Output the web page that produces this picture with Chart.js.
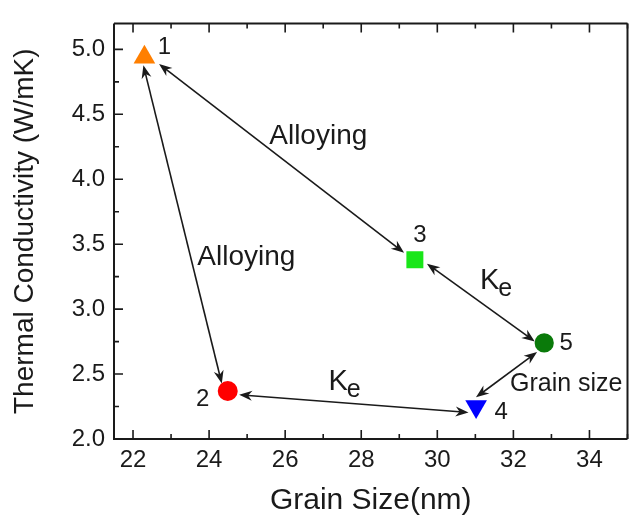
<!DOCTYPE html>
<html><head><meta charset="utf-8">
<script src="https://cdn.jsdelivr.net/npm/chart.js@4.4.1/dist/chart.umd.min.js"></script>
<style>html,body{margin:0;padding:0;overflow:hidden;background:#fff}#wrap{width:640px;height:519px}</style>
</head><body><div id="wrap"><canvas id="c" width="640" height="519"></canvas></div>
<script>
// ---- data ----
const sampleLabels = ['1', '2', '3', '4', '5'];
const grainSize = [22.30, 24.49, 29.41, 31.02, 32.81];
const conductivity = [4.94, 2.37, 3.38, 2.25, 2.74];
const xTickValues = [22, 24, 26, 28, 30, 32, 34];
const yTickValues = [2.0, 2.5, 3.0, 3.5, 4.0, 4.5, 5.0];
const xMinorValues = [23, 25, 27, 29, 31, 33, 35];
const yMinorValues = [2.25, 2.75, 3.25, 3.75, 4.25, 4.75];
// arrow annotations (data units)
const arrowFrom = [[22.685, 4.887], [22.273, 4.877], [24.790, 2.341], [29.727, 3.350], [31.016, 2.321]];
const arrowTo = [[29.127, 3.434], [24.334, 2.427], [30.820, 2.204], [32.562, 2.751], [32.623, 2.669]];
// text annotations (data units, baseline anchor)
const noteText = ['Alloying', 'Alloying', 'Grain size'];
const noteAt = [[26.87, 4.269], [24.98, 3.341], [31.91, 2.366]];
const kePos = [[27.14, 2.378], [31.12, 3.157]];

// ---- styles ----
const FONT = "'Liberation Sans', Arial, Helvetica, sans-serif";
const INK = '#1a1a1a';
const markerStyle = ['triangle', 'circle', 'rect', 'triangle', 'circle'];
const markerRot = [0, 0, 0, 180, 0];
const markerColor = ['#ff7f00', '#ff0000', '#19e619', '#0000ff', '#0a7a0a'];
const markerRadius = [12.5, 10, 12, 12.5, 9.6];
const labelOffset = [[20, -10], [-25, 8], [5, -24], [25, 6], [22, 0]];
const noteAlign = ['center', 'center', 'left'];
const noteSize = [28, 28, 25];

function arrowHead(ctx, x0, y0, x1, y1) {
  const a = Math.atan2(y1 - y0, x1 - x0);
  const L = 13, W = 5, N = 9;
  ctx.save();
  ctx.translate(x1, y1); ctx.rotate(a);
  ctx.beginPath();
  ctx.moveTo(0, 0); ctx.lineTo(-L, W); ctx.lineTo(-N, 0); ctx.lineTo(-L, -W);
  ctx.closePath(); ctx.fill();
  ctx.restore();
}

const decor = {
  id: 'decor',
  beforeDatasetsDraw(chart) {
    const { ctx, chartArea: ca, scales: { x, y } } = chart;
    ctx.save();
    ctx.strokeStyle = INK; ctx.fillStyle = INK;
    // frame
    ctx.lineWidth = 2;
    ctx.beginPath();
    ctx.moveTo(ca.left, ca.top); ctx.lineTo(ca.right, ca.top);
    ctx.moveTo(ca.left, ca.top); ctx.lineTo(ca.left, ca.bottom);
    ctx.moveTo(ca.left - 1, ca.bottom); ctx.lineTo(ca.right, ca.bottom);
    ctx.moveTo(ca.right, ca.top); ctx.lineTo(ca.right, ca.bottom);
    ctx.stroke();
    // ticks (inward)
    ctx.lineWidth = 1.6;
    ctx.beginPath();
    xTickValues.forEach(v => { const p = x.getPixelForValue(v);
      ctx.moveTo(p, ca.bottom); ctx.lineTo(p, ca.bottom - 9);
      ctx.moveTo(p, ca.top); ctx.lineTo(p, ca.top + 9); });
    xMinorValues.forEach(v => { const p = x.getPixelForValue(v);
      ctx.moveTo(p, ca.bottom); ctx.lineTo(p, ca.bottom - 5);
      ctx.moveTo(p, ca.top); ctx.lineTo(p, ca.top + 5); });
    yTickValues.forEach(v => { const p = y.getPixelForValue(v);
      ctx.moveTo(ca.left, p); ctx.lineTo(ca.left + 9, p); });
    yMinorValues.forEach(v => { const p = y.getPixelForValue(v);
      ctx.moveTo(ca.left, p); ctx.lineTo(ca.left + 5, p); });
    ctx.stroke();
    // arrows
    ctx.lineWidth = 1.6;
    arrowFrom.forEach((f, i) => {
      const t = arrowTo[i];
      const x0 = x.getPixelForValue(f[0]), y0 = y.getPixelForValue(f[1]);
      const x1 = x.getPixelForValue(t[0]), y1 = y.getPixelForValue(t[1]);
      const len = Math.hypot(x1 - x0, y1 - y0), ux = (x1 - x0) / len, uy = (y1 - y0) / len;
      ctx.beginPath();
      ctx.moveTo(x0 + ux * 6, y0 + uy * 6); ctx.lineTo(x1 - ux * 6, y1 - uy * 6);
      ctx.stroke();
      arrowHead(ctx, x0, y0, x1, y1);
      arrowHead(ctx, x1, y1, x0, y0);
    });
    ctx.restore();
  },
  afterDatasetsDraw(chart) {
    const { ctx, scales: { x, y } } = chart;
    ctx.save();
    ctx.fillStyle = INK;
    // point labels
    ctx.font = '24px ' + FONT;
    ctx.textAlign = 'center'; ctx.textBaseline = 'middle';
    sampleLabels.forEach((s, i) => {
      ctx.fillText(s, x.getPixelForValue(grainSize[i]) + labelOffset[i][0],
        y.getPixelForValue(conductivity[i]) + labelOffset[i][1]);
    });
    // notes
    ctx.textBaseline = 'alphabetic';
    noteText.forEach((s, i) => {
      ctx.font = noteSize[i] + 'px ' + FONT;
      ctx.textAlign = noteAlign[i];
      ctx.fillText(s, x.getPixelForValue(noteAt[i][0]), y.getPixelForValue(noteAt[i][1]));
    });
    // K_e labels
    ctx.textAlign = 'left';
    kePos.forEach(p => {
      const px = x.getPixelForValue(p[0]), py = y.getPixelForValue(p[1]);
      ctx.font = '29px ' + FONT;
      ctx.fillText('K', px, py);
      const w = ctx.measureText('K').width;
      ctx.font = '25px ' + FONT;
      ctx.fillText('e', px + w - 1, py + 7);
    });
    ctx.restore();
  }
};

new Chart(document.getElementById('c'), {
  type: 'scatter',
  data: {
    labels: sampleLabels,
    datasets: [{
      data: grainSize.map((g, i) => ({ x: g, y: conductivity[i] })),
      pointStyle: markerStyle,
      rotation: markerRot,
      backgroundColor: markerColor,
      borderColor: markerColor,
      borderWidth: 0,
      pointRadius: markerRadius,
      pointHoverRadius: markerRadius
    }]
  },
  options: {
    responsive: false,
    animation: false,
    events: [],
    layout: { padding: { top: 10, right: 2, left: 0, bottom: 0 } },
    plugins: { legend: { display: false }, tooltip: { enabled: false } },
    scales: {
      x: {
        type: 'linear', min: 21.5, max: 35, position: 'bottom',
        grid: { display: false, drawTicks: false },
        border: { display: false },
        afterBuildTicks: s => { s.ticks = xTickValues.map(v => ({ value: v })); },
        afterFit: s => { s.height = 80; },
        ticks: { font: { family: FONT, size: 24 }, color: INK, padding: 7, maxRotation: 0, autoSkip: false,
          callback: v => String(v) },
        title: { display: true, text: 'Grain Size(nm)', color: INK,
          font: { family: FONT, size: 30 }, padding: { top: 0, bottom: 0 } }
      },
      y: {
        type: 'linear', min: 2.0, max: 5.2,
        grid: { display: false, drawTicks: false },
        border: { display: false },
        afterBuildTicks: s => { s.ticks = yTickValues.map(v => ({ value: v })); },
        afterFit: s => { s.width = 114; },
        ticks: { font: { family: FONT, size: 24 }, color: INK, padding: 9, autoSkip: false,
          callback: v => Number(v).toFixed(1) },
        title: { display: true, text: 'Thermal Conductivity (W/mK)', color: INK,
          font: { family: FONT, size: 28 }, padding: { top: 8, bottom: 0 } }
      }
    }
  },
  plugins: [decor]
});
</script>
</body></html>
